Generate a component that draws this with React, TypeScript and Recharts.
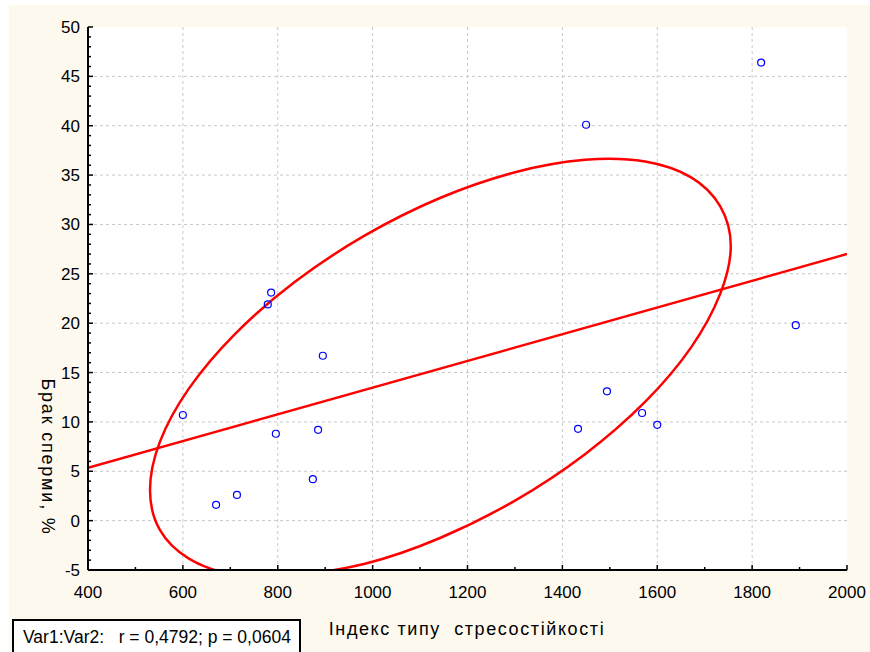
import React from 'react';
import { ComposedChart, XAxis, YAxis, CartesianGrid, Scatter, Line } from 'recharts';

// Observed points: Var1 (stress index) vs Var2 (sperm defect, %)
const pointX = [600, 670, 714, 779, 786, 796, 874, 885, 895, 1433, 1450, 1494, 1568, 1600, 1819, 1892];
const pointY = [10.7, 1.6, 2.6, 21.9, 23.1, 8.8, 4.2, 9.2, 16.7, 9.3, 40.1, 13.1, 10.9, 9.7, 46.4, 19.8];

// Regression line end points
const regressionX = [400, 2000];
const regressionY = [5.35, 27.0];

// Confidence ellipse outline (closed loop)
const ellipseX = [836.3, 983.8, 1142, 1300.2, 1447.7, 1574.3, 1671.4, 1732.5, 1755, 1732.5, 1671.4, 1574.3, 1447.7, 1300.2, 1142, 983.8, 836.3, 709.7, 612.6, 551.5, 530.7, 551.5, 612.6, 709.7, 836.3];
const ellipseY = [-5.63, -4.37, -1.76, 2.03, 6.73, 12.02, 17.55, 22.94, 27.82, 31.86, 34.77, 36.38, 36.55, 35.29, 32.68, 28.89, 24.19, 18.9, 13.37, 7.98, 3.1, -0.94, -3.85, -5.46, -5.63];

// Axis ticks
const xMajorTicks = [400, 600, 800, 1000, 1200, 1400, 1600, 1800, 2000];
const yMajorTicks = [-5, 0, 5, 10, 15, 20, 25, 30, 35, 40, 45, 50];
const xGridValues = [600, 800, 1000, 1200, 1400, 1600, 1800];
const yGridValues = [0, 5, 10, 15, 20, 25, 30, 35, 40, 45];
const xAllTicks = Array.from({ length: 17 }, (_, i) => 400 + i * 100);
const yAllTicks = Array.from({ length: 56 }, (_, i) => -5 + i);

const xTitle = 'Індекс типу  стресостійкості';
const yTitle = 'Брак сперми, %';
const statText = 'Var1:Var2:   r = 0,4792; p = 0,0604';

const points = pointX.map((x, i) => ({ x, y: pointY[i] }));
const regression = regressionX.map((x, i) => ({ x, y: regressionY[i] }));
const ellipse = ellipseX.map((x, i) => ({ x, y: ellipseY[i] }));

const FONT = '"Liberation Sans", Arial, sans-serif';
const MAJOR = 5;
const MINOR = 3;

const isMajorX = (v: number) => xMajorTicks.includes(v);
const isMajorY = (v: number) => yMajorTicks.includes(v);

const BottomTick = (props: any) => {
  const { x, y, payload } = props;
  const major = isMajorX(payload.value);
  return (
    <g>
      <line x1={x} x2={x} y1={y} y2={y - (major ? MAJOR : MINOR)} stroke="#000" strokeWidth={1.5} />
      {major && (
        <text x={x} y={y + 16} dy="0.71em" textAnchor="middle" fontSize={17} fontFamily={FONT} fill="#000">
          {payload.value}
        </text>
      )}
    </g>
  );
};

const TopTick = (props: any) => {
  const { x, y, payload } = props;
  const major = isMajorX(payload.value);
  return <line x1={x} x2={x} y1={y} y2={y + (major ? MAJOR : MINOR)} stroke="#000" strokeWidth={1.5} />;
};

const LeftTick = (props: any) => {
  const { x, y, payload } = props;
  const major = isMajorY(payload.value);
  return (
    <g>
      <line x1={x} x2={x + (major ? MAJOR : MINOR)} y1={y} y2={y} stroke="#000" strokeWidth={1.5} />
      {major && (
        <text x={x - 8} y={y} dy="0.355em" textAnchor="end" fontSize={17} fontFamily={FONT} fill="#000">
          {payload.value}
        </text>
      )}
    </g>
  );
};

const RightTick = (props: any) => {
  const { x, y, payload } = props;
  const major = isMajorY(payload.value);
  return <line x1={x} x2={x - (major ? MAJOR : MINOR)} y1={y} y2={y} stroke="#000" strokeWidth={1.5} />;
};

const Dot = (props: any) => (
  <circle cx={props.cx} cy={props.cy} r={3.5} fill="none" stroke="#0000ff" strokeWidth={1.2} />
);

const axisLine = { stroke: '#000', strokeWidth: 2 };

export default function App() {
  return (
    <div style={{ position: 'absolute', left: 0, top: 0, width: 870, height: 652, overflow: 'hidden', background: '#fff' }}>
      <div style={{ position: 'absolute', left: 9, top: 5, width: 861, height: 647, background: '#fdf9ef' }} />
      <div style={{ position: 'absolute', left: 0, top: 0 }}>
        <ComposedChart width={870} height={652} margin={{ top: 27, right: 23, bottom: 0, left: 0 }}>
          <CartesianGrid
            stroke="#c8c8c8"
            strokeDasharray="3 3"
            fill="#ffffff"
            verticalValues={xGridValues}
            horizontalValues={yGridValues}
          />
          <XAxis
            dataKey="x"
            type="number"
            domain={[400, 2000]}
            allowDataOverflow
            ticks={xAllTicks}
            interval={0}
            height={82}
            tickSize={0}
            tickMargin={0}
            tickLine={false}
            axisLine={axisLine}
            tick={<BottomTick />}
          />
          <XAxis
            xAxisId="top"
            orientation="top"
            dataKey="x"
            type="number"
            domain={[400, 2000]}
            allowDataOverflow
            ticks={xAllTicks}
            interval={0}
            height={0}
            tickSize={0}
            tickMargin={0}
            tickLine={false}
            axisLine={axisLine}
            tick={<TopTick />}
          />
          <YAxis
            dataKey="y"
            type="number"
            domain={[-5, 50]}
            allowDataOverflow
            ticks={yAllTicks}
            interval={0}
            width={88}
            tickSize={0}
            tickMargin={0}
            tickLine={false}
            axisLine={axisLine}
            tick={<LeftTick />}
          />
          <YAxis
            yAxisId="right"
            orientation="right"
            dataKey="y"
            type="number"
            domain={[-5, 50]}
            allowDataOverflow
            ticks={yAllTicks}
            interval={0}
            width={0}
            tickSize={0}
            tickMargin={0}
            tickLine={false}
            axisLine={axisLine}
            tick={<RightTick />}
          />
          <Line
            data={ellipse}
            dataKey="y"
            type="natural"
            stroke="#ff0000"
            strokeWidth={2.5}
            dot={false}
            activeDot={false}
            isAnimationActive={false}
          />
          <Line
            data={regression}
            dataKey="y"
            xAxisId="top"
            yAxisId="right"
            type="linear"
            stroke="#ff0000"
            strokeWidth={2.5}
            dot={false}
            activeDot={false}
            isAnimationActive={false}
          />
          <Scatter data={points} dataKey="y" shape={<Dot />} isAnimationActive={false} />
        </ComposedChart>
      </div>
      <svg width={870} height={652} style={{ position: 'absolute', left: 0, top: 0, pointerEvents: 'none' }}>
        <text
          x={467}
          y={635}
          textAnchor="middle"
          fontSize={18}
          letterSpacing={1.6}
          fontFamily={FONT}
          fill="#000"
          style={{ whiteSpace: 'pre' }}
        >
          {xTitle}
        </text>
        <text
          transform="translate(42,457) rotate(90)"
          textAnchor="middle"
          fontSize={18}
          letterSpacing={1.8}
          fontFamily={FONT}
          fill="#000"
          style={{ whiteSpace: 'pre' }}
        >
          {yTitle}
        </text>
        <rect x={13} y={620} width={287} height={40} fill="#fff" stroke="#000" strokeWidth={2} />
        <text x={23} y={643} fontSize={17.5} fontFamily={FONT} fill="#000" style={{ whiteSpace: 'pre' }}>
          {statText}
        </text>
      </svg>
    </div>
  );
}
